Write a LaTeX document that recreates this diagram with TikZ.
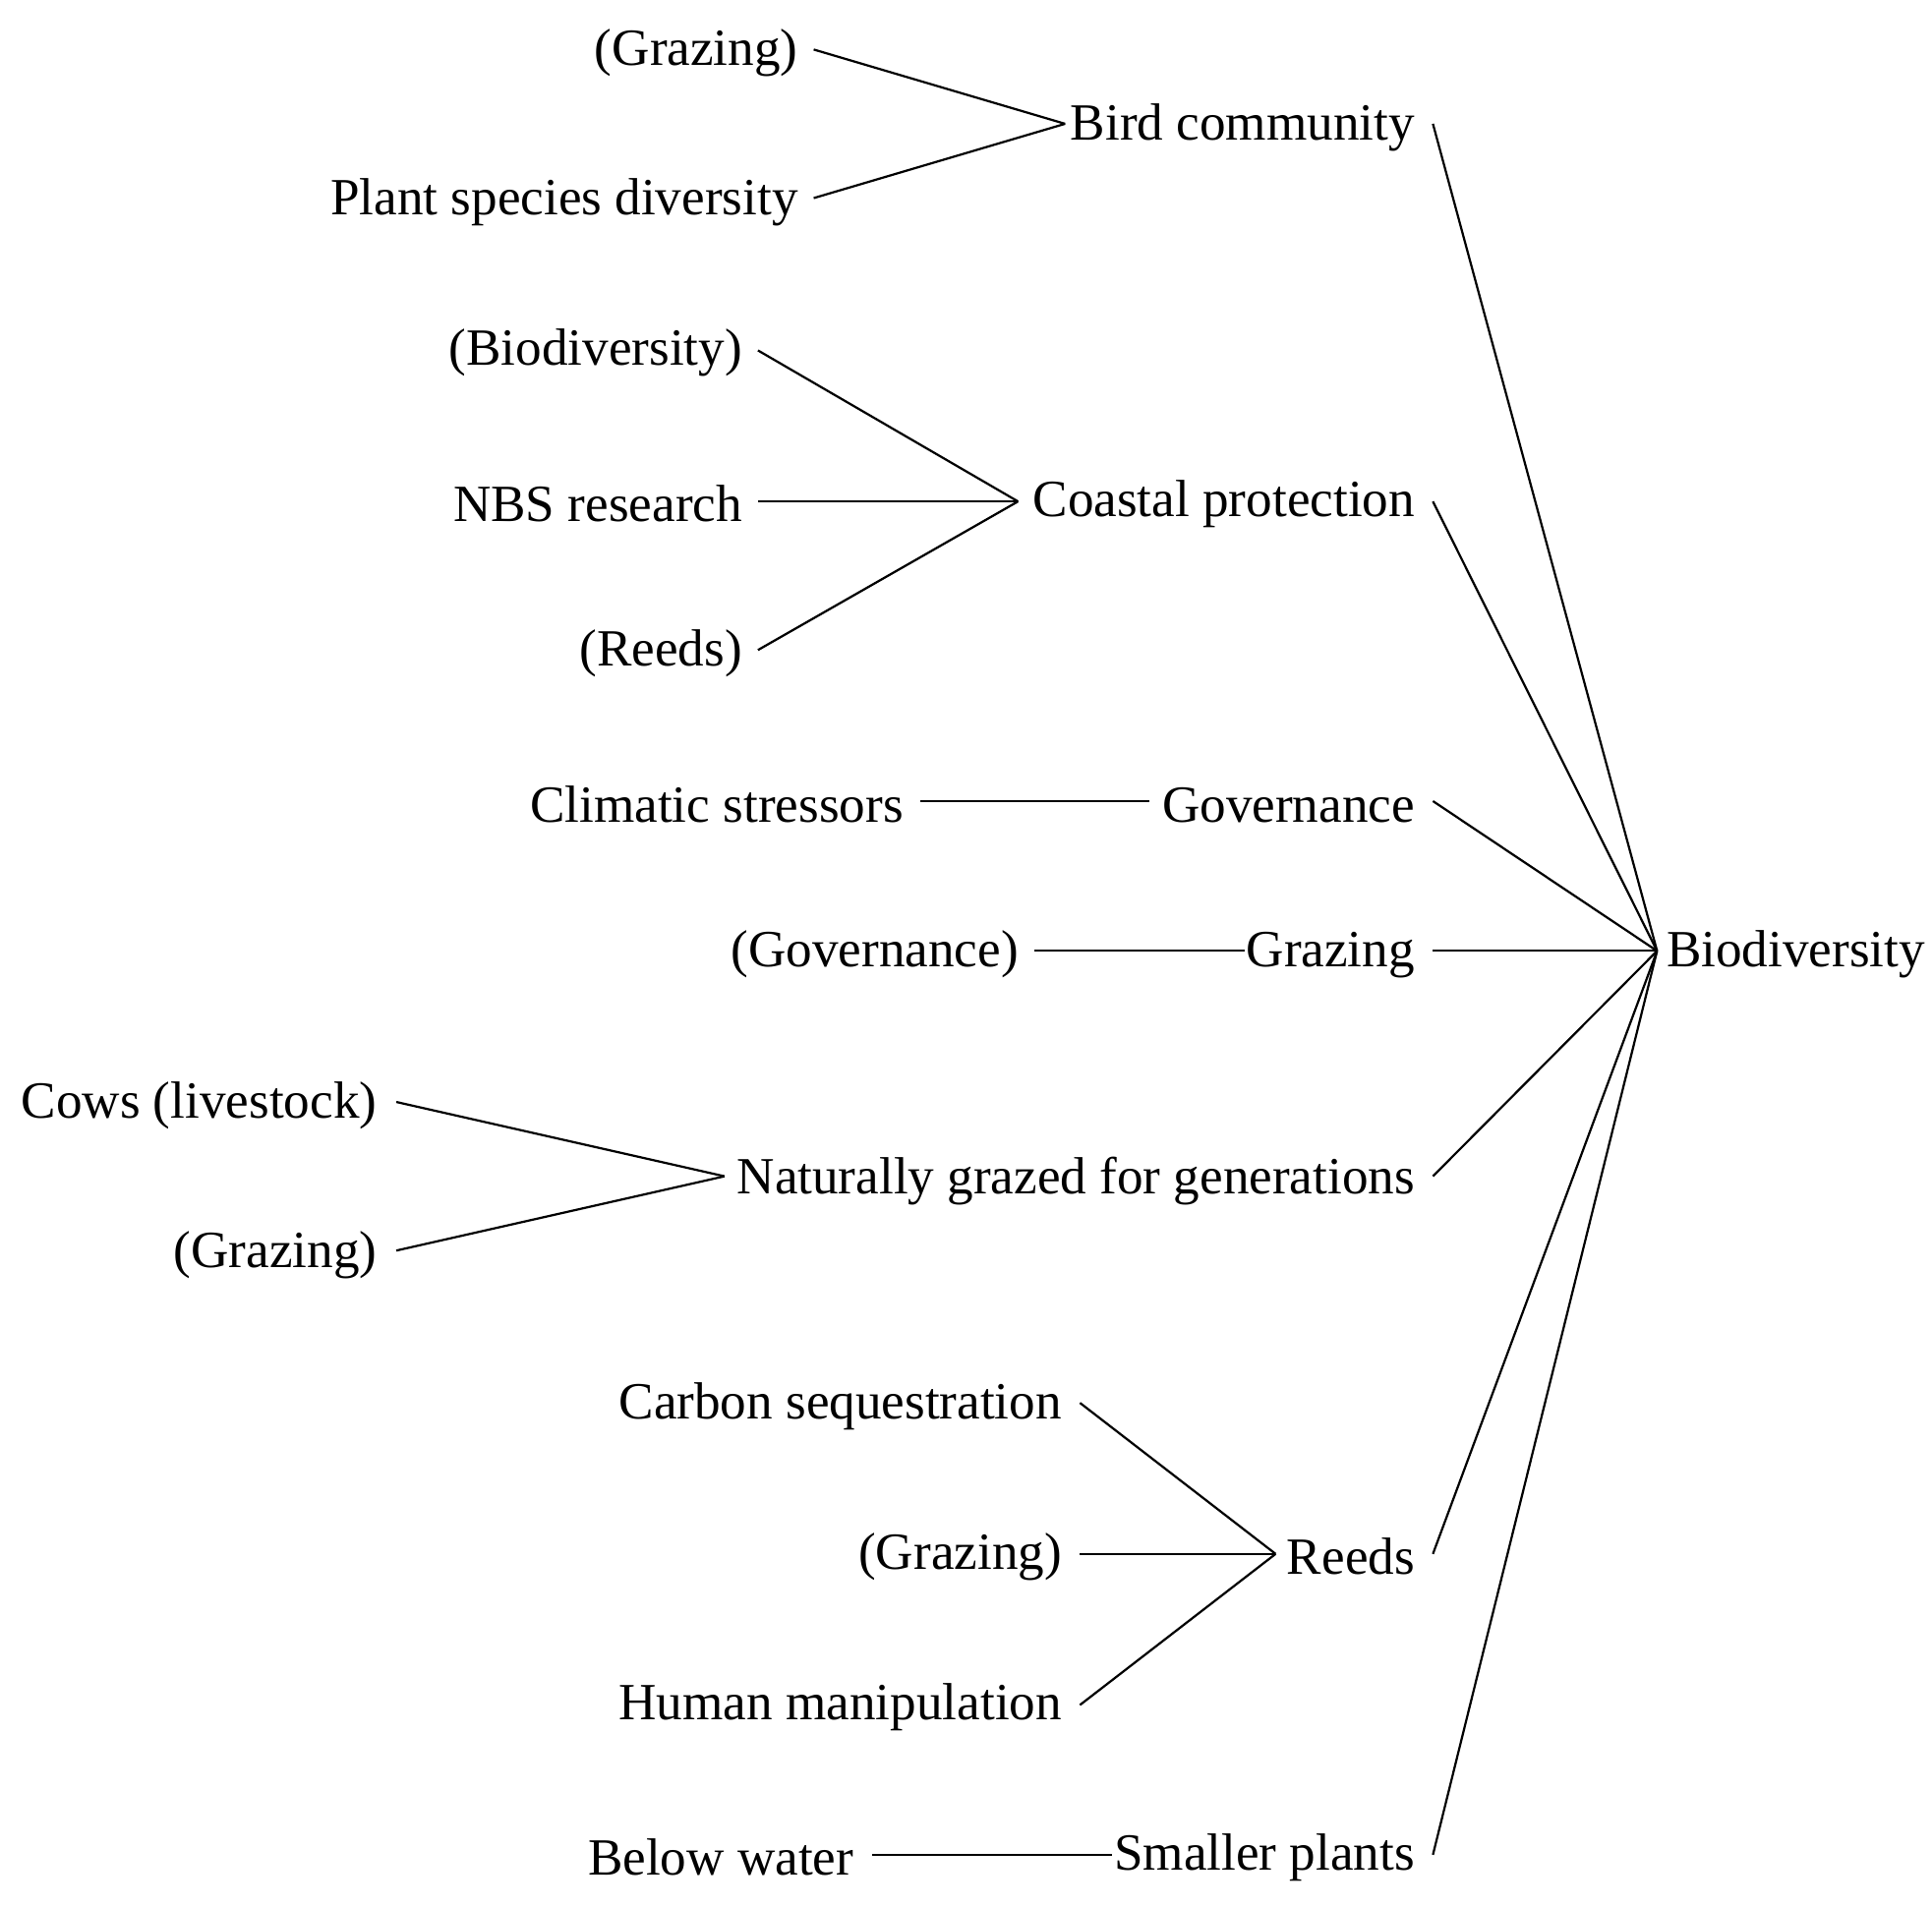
\documentclass[tikz,border=0pt]{standalone}
\usepackage{fontspec}
\setmainfont{Liberation Serif}
\begin{document}
\begin{tikzpicture}[x=0.01cm,y=-0.01cm,
  every node/.style={inner sep=0pt,font=\fontsize{12}{14}\selectfont},
  src/.style={anchor=east},
  ln/.style={line width=0.5pt}]
\useasboundingbox (0,0) rectangle (1560,1540);
\node[anchor=east] (bird) at (1143,103) {Bird community};
\node[anchor=east] (coast) at (1143,407) {Coastal protection};
\node[anchor=east] (gov) at (1143,650) {Governance};
\node[anchor=east] (graz) at (1143,771) {Grazing};
\node[anchor=east] (nat) at (1143,954) {Naturally grazed for generations};
\node[anchor=east] (reeds) at (1143,1257) {Reeds};
\node[anchor=east] (small) at (1143,1500) {Smaller plants};
\node[anchor=west] (bio) at (1345,771) {Biodiversity};
\node[src] (g1) at (645,43) {(Grazing)};
\node[src] (psd) at (645,163) {Plant species diversity};
\node[src] (b1) at (600,285) {(Biodiversity)};
\node[src] (nbs) at (600,407) {NBS research};
\node[src] (r1) at (600,528) {(Reeds)};
\node[src] (cs) at (730,650) {Climatic stressors};
\node[src] (gv1) at (823,771) {(Governance)};
\node[src] (cows) at (305,893) {Cows (livestock)};
\node[src] (g2) at (305,1014) {(Grazing)};
\node[src] (carb) at (858,1136) {Carbon sequestration};
\node[src] (g3) at (858,1257) {(Grazing)};
\node[src] (hum) at (858,1379) {Human manipulation};
\node[src] (bw) at (690,1500) {Below water};
\coordinate (jb) at (860,100);
\coordinate (jc) at (822,405);
\coordinate (jgov) at (928,647);
\coordinate (jgr) at (1005,768);
\coordinate (jn) at (585,950);
\coordinate (jr) at (1030,1255);
\coordinate (js) at (898,1498);
\coordinate (jbio) at (1338,768);
\draw[ln] ([xshift=0.12cm]g1.east|-0,40) -- (jb);
\draw[ln] ([xshift=0.12cm]psd.east|-0,160) -- (jb);
\draw[ln] ([xshift=0.12cm]b1.east|-0,283) -- (jc);
\draw[ln] ([xshift=0.12cm]nbs.east|-0,405) -- (jc);
\draw[ln] ([xshift=0.12cm]r1.east|-0,525) -- (jc);
\draw[ln] ([xshift=0.13cm]cs.east|-0,647) -- (jgov);
\draw[ln] ([xshift=0.12cm]gv1.east|-0,768) -- (jgr);
\draw[ln] ([xshift=0.15cm]cows.east|-0,890) -- (jn);
\draw[ln] ([xshift=0.15cm]g2.east|-0,1010) -- (jn);
\draw[ln] ([xshift=0.14cm]carb.east|-0,1133) -- (jr);
\draw[ln] ([xshift=0.14cm]g3.east|-0,1255) -- (jr);
\draw[ln] ([xshift=0.14cm]hum.east|-0,1377) -- (jr);
\draw[ln] ([xshift=0.14cm]bw.east|-0,1498) -- (js);
\foreach \n/\y in {bird/100,coast/405,gov/647,graz/768,nat/950,reeds/1255,small/1498}
  \draw[ln] ([xshift=0.14cm]\n.east|-0,\y) -- (jbio);
\end{tikzpicture}
\end{document}
